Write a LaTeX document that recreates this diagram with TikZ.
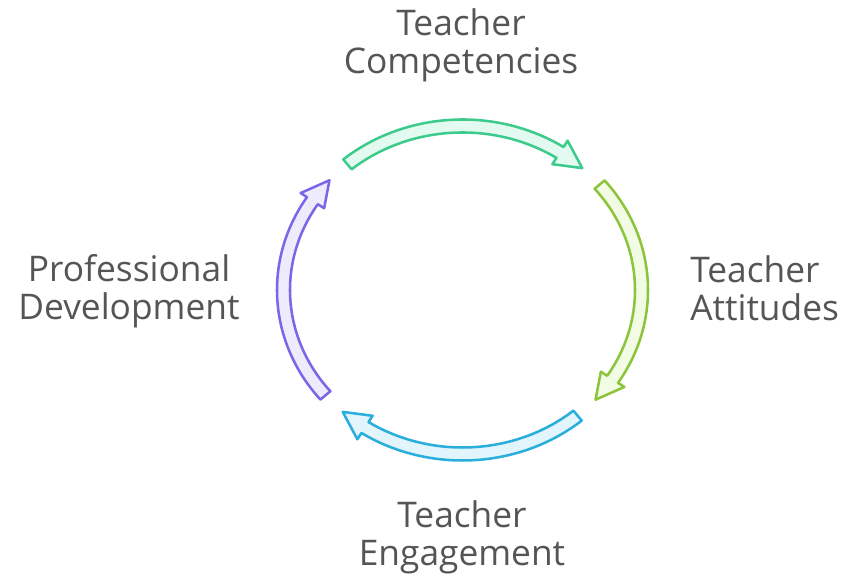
\documentclass[tikz,border=0pt]{standalone}
\usepackage{fontspec}
\setmainfont{Open Sans}
\definecolor{gstroke}{HTML}{3DCB8C}
\definecolor{gfill}{HTML}{E2FAF0}
\definecolor{lstroke}{HTML}{8CC43C}
\definecolor{lfill}{HTML}{F2FBE4}
\definecolor{bstroke}{HTML}{2AAEDB}
\definecolor{bfill}{HTML}{E2F5FC}
\definecolor{pstroke}{HTML}{7B66E8}
\definecolor{pfill}{HTML}{EEEBFC}
\definecolor{txt}{HTML}{555555}
\tikzset{
  cyc/.style={line width=1.9pt, line join=round},
  lbl/.style={text=txt, align=center, inner sep=0pt, font={\fontsize{26.5}{28.9}\selectfont}},
}
\newcommand\cyclearrow[4]{%
  \filldraw[cyc,#4] ({\cx+(\rx+\w)*cos(#1)},{\cy+(\ry+\w)*sin(#1)})
    arc[start angle=#1,end angle=#2,x radius=\rx+\w,y radius=\ry+\w]
    -- ({\cx+(\rx+\hw)*cos(#2)},{\cy+(\ry+\hw)*sin(#2)})
    -- ({\cx+\rx*cos(#3)},{\cy+\ry*sin(#3)})
    -- ({\cx+(\rx-\hw)*cos(#2)},{\cy+(\ry-\hw)*sin(#2)})
    -- ({\cx+(\rx-\w)*cos(#2)},{\cy+(\ry-\w)*sin(#2)})
    arc[start angle=#2,end angle=#1,x radius=\rx-\w,y radius=\ry-\w]
    -- cycle;}
\begin{document}
\begin{tikzpicture}[x=0.75pt,y=0.75pt]
\useasboundingbox (0,0) rectangle (844,580);
\def\cx{462.5}\def\cy{290}\def\rx{179}\def\ry{164}
\def\w{6.5}\def\hw{14}
\cyclearrow{130}{57}{48}{draw=gstroke,fill=gfill}
\cyclearrow{40}{-33}{-42}{draw=lstroke,fill=lfill}
\cyclearrow{-50}{-123}{-132}{draw=bstroke,fill=bfill}
\cyclearrow{-140}{-213}{-222}{draw=pstroke,fill=pfill}
\node[lbl,anchor=base] (comp) at (461,506) {Teacher\\Competencies};
\node[lbl,anchor=base] (prof) at (129,260) {Professional\\Development};
\node[lbl,anchor=base west,align=left] (att) at (690,259) {Teacher\\Attitudes};
\node[lbl,anchor=base] (eng) at (462,14) {Teacher\\Engagement};
\end{tikzpicture}
\end{document}
